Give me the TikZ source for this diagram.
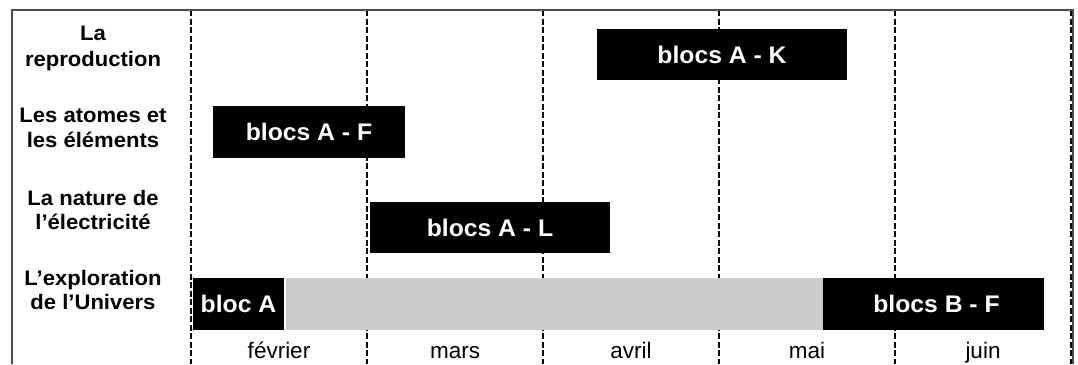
\documentclass[tikz,border=0pt]{standalone}
\usepackage{fontspec}
\setmainfont{Liberation Sans}
\newfontfamily\topicfont{Liberation Sans}[FakeStretch=1.05]
\newfontfamily\barfont{Liberation Sans}[FakeStretch=1.03]
\begin{document}
\begin{tikzpicture}[x=1pt,y=-1pt,
  frameline/.style={draw=black!70, line width=1.4pt},
  monthline/.style={draw=black, line width=2pt, dash pattern=on 6pt off 2.5pt},
  topic/.style={anchor=base, inner sep=0pt,
    font=\topicfont\bfseries\fontsize{21}{24.5}\selectfont},
  bar/.style={fill=black, text=white, inner sep=0pt,
    font=\barfont\bfseries\fontsize{24}{28}\selectfont},
  idle/.style={fill=black!20, inner sep=0pt},
  month/.style={anchor=base, inner sep=0pt, font=\fontsize{22.5}{26}\selectfont}]
\useasboundingbox (0,0) rectangle (1078,364);

% month separators
\foreach \x in {191,367,543,719,895,1071}
  \draw[monthline] (\x,10) -- (\x,364);

% outer frame
\draw[frameline] (12,364) -- (12,10) -- (1073,10) -- (1073,364);

% topic labels
\node[topic] (t1) at (93,40)
  {\begin{tabular}[t]{@{}c@{}}La\\[2pt]reproduction\end{tabular}};
\node[topic] (t2) at (93,122.7)
  {\begin{tabular}[t]{@{}c@{}}Les atomes et\\les éléments\end{tabular}};
\node[topic] (t3) at (93,205)
  {\begin{tabular}[t]{@{}c@{}}La nature de\\l’électricité\end{tabular}};
\node[topic] (t4) at (93,285)
  {\begin{tabular}[t]{@{}c@{}}L’exploration\\de l’Univers\end{tabular}};

% schedule bars
\node[bar, minimum width=250, minimum height=51] (ak) at (722,54.5) {blocs A - K};
\node[bar, minimum width=192, minimum height=52] (af) at (309,132) {blocs A - F};
\node[bar, minimum width=240, minimum height=51] (al) at (490,227.5) {blocs A - L};
\node[idle, minimum width=537, minimum height=52] (pause) at (554.5,304) {};
\node[bar, minimum width=91, minimum height=52] (ba) at (238.5,304) {bloc A};
\node[bar, minimum width=221, minimum height=52] (bf) at (933.5,304)
  {\hspace*{6pt}blocs B - F};

% months
\node[month] (feb) at (279,358) {février};
\node[month] (mar) at (455,358) {mars};
\node[month] (apr) at (631,358) {avril};
\node[month] (may) at (807,358) {mai};
\node[month] (jun) at (983,358) {juin};
\end{tikzpicture}
\end{document}
